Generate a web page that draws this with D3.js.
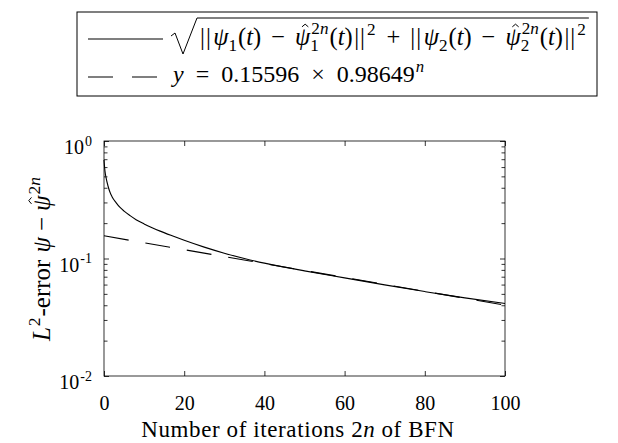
<!DOCTYPE html>
<html><head><meta charset="utf-8">
<script src="https://cdn.jsdelivr.net/npm/d3@7"></script>
<style>body{margin:0;background:#fff}svg{display:block}</style>
</head><body><svg id="c" width="618" height="443"></svg>
<script>
// ---- data ----
const errX = [0, 0.25, 0.5, 1, 1.5, 2, 3, 4, 5, 6.5, 8, 10, 12, 14, 17, 20, 25, 30, 35, 40, 45, 50, 60, 70, 80, 90, 100];
const errY = [0.690, 0.551, 0.490, 0.414, 0.366, 0.336, 0.299, 0.272, 0.253, 0.2315, 0.214, 0.197, 0.183, 0.171, 0.156, 0.143, 0.125, 0.111, 0.100, 0.0913, 0.0844, 0.0785, 0.0684, 0.0596, 0.0523, 0.0462, 0.0414];
const fitX = [0, 100];
const fitY = [0.15596, 0.04002];
const fitA = "0.15596", fitB = "0.98649";
const xTicks = [0, 20, 40, 60, 80, 100];
const yTickExp = [0, -1, -2];

const FONT = "'Liberation Serif','DejaVu Serif',serif";
const svg = d3.select("#c");
const L = 104, R = 505, T = 141, B = 376;
const x = d3.scaleLinear().domain([0, 100]).range([L, R]);
const y = d3.scaleLog().domain([0.01, 1]).range([B, T]);

// math-like text layout: one <text> per expression, tspans positioned absolutely
function mathLayout(g, items, size, opts = {}) {
  const text = g.append("text").style("font-family", FONT).attr("fill", "#000");
  if (opts.ls) text.style("letter-spacing", opts.ls + "px");
  const supK = opts.supK || 0.7;
  let cx = 0;
  function put(tok, px, py, fs) {
    const ts = text.append("tspan").attr("x", px).attr("y", py).style("font-size", fs + "px")
      .style("font-style", tok.f === "i" ? "italic" : "normal").text(tok.t);
    if (tok.tight) ts.style("letter-spacing", tok.tight + "px");
    const w = ts.node().getComputedTextLength();
    if (tok.hat) {
      const hx = px + w / 2 + fs * 0.1, hy = py - fs * 0.74;
      g.append("path").attr("d", `M${hx - fs * 0.13},${hy} L${hx},${hy - fs * 0.11} L${hx + fs * 0.13},${hy}`)
        .attr("fill", "none").attr("stroke", "#000").attr("stroke-width", 1);
    }
    return w;
  }
  for (const it of items) {
    if (it.sup || it.sub) {
      const fs = size * supK;
      let ws = 0, wb = 0;
      if (it.sup) { let xx = cx + 1; for (const t of it.sup) xx += put(t, xx, -size * (it.sub ? 0.45 : 0.42), fs); ws = xx - cx; }
      if (it.sub) { let xx = cx; for (const t of it.sub) xx += put(t, xx, size * 0.25, fs); wb = xx - cx; }
      cx += Math.max(ws, wb) + 1;
    } else {
      cx += (it.ml || 0);
      cx += put(it, cx, 0, size);
      cx += (it.mr || 0);
    }
  }
  return cx;
}

// ---- axes ----
const ax = svg.append("g");
const tickStyle = g => { g.select(".domain").remove(); g.selectAll("line").attr("stroke", "#000").attr("stroke-width", 0.8); };
ax.append("g").attr("transform", `translate(0,${B})`)
  .call(d3.axisBottom(x).tickValues(xTicks).tickSize(-5).tickPadding(20).tickFormat(d3.format("d")))
  .call(tickStyle)
  .call(g => g.selectAll("text").style("font-family", FONT).style("font-size", "20px").attr("fill", "#000"));
ax.append("g").attr("transform", `translate(0,${T})`)
  .call(d3.axisTop(x).tickValues(xTicks).tickSize(-5).tickFormat(""))
  .call(tickStyle);
const major = yTickExp.map(e => Math.pow(10, e));
const minor = y.ticks().filter(v => !major.some(m => Math.abs(v - m) < 1e-9));
[[d3.axisLeft, L], [d3.axisRight, R]].forEach(([fn, px]) => {
  ax.append("g").attr("transform", `translate(${px},0)`)
    .call(fn(y).tickValues(major).tickSize(-5).tickFormat("")).call(tickStyle);
  ax.append("g").attr("transform", `translate(${px},0)`)
    .call(fn(y).tickValues(minor).tickSize(-3.5).tickFormat("")).call(tickStyle);
});
ax.append("rect").attr("x", L).attr("y", T).attr("width", R - L).attr("height", B - T)
  .attr("fill", "none").attr("stroke", "#000").attr("stroke-width", 0.8);

// y tick labels
yTickExp.forEach(e => {
  const g = svg.append("g");
  const w = mathLayout(g, [{ t: "10" }, { sup: [{ t: String(e) }] }], 20);
  g.attr("transform", `translate(${93 - w},${y(Math.pow(10, e)) + 13})`);
});

// ---- lines ----
const line = d3.line().x(d => x(d[0])).y(d => y(d[1])).curve(d3.curveMonotoneX);
svg.append("path").datum(errX.map((v, i) => [v, errY[i]]))
  .attr("d", line).attr("fill", "none").attr("stroke", "#000").attr("stroke-width", 1.1);
svg.append("path").datum(fitX.map((v, i) => [v, fitY[i]]))
  .attr("d", d3.line().x(d => x(d[0])).y(d => y(d[1])))
  .attr("fill", "none").attr("stroke", "#000").attr("stroke-width", 1.1)
  .attr("stroke-dasharray", "25,17");

// ---- axis labels ----
{
  const g = svg.append("g");
  const w = mathLayout(g, [{ t: "Number of iterations 2" }, { t: "n", f: "i" }, { t: "of BFN", ml: 6 }], 23, { ls: 0.6 });
  g.attr("transform", `translate(${298 - w / 2},437)`);
}
{
  const g = svg.append("g");
  const w = mathLayout(g, [{ t: "L", f: "i" }, { sup: [{ t: "2" }] }, { t: "-error", mr: 7 },
    { t: "ψ", f: "i" }, { t: "−", ml: 6, mr: 6 }, { t: "ψ", f: "i", hat: true },
    { sup: [{ t: "2" }, { t: "n", f: "i" }] }], 25);
  g.attr("transform", `translate(50,${(T + B) / 2 + w / 2}) rotate(-90)`);
}

// ---- legend ----
const lg = svg.append("g");
lg.append("rect").attr("x", 77).attr("y", 12).attr("width", 520).attr("height", 84)
  .attr("fill", "#fff").attr("stroke", "#000").attr("stroke-width", 1);
lg.append("line").attr("x1", 88).attr("x2", 163).attr("y1", 39).attr("y2", 39)
  .attr("stroke", "#000").attr("stroke-width", 1.1);
lg.append("line").attr("x1", 88).attr("x2", 163).attr("y1", 77).attr("y2", 77)
  .attr("stroke", "#000").attr("stroke-width", 1.1).attr("stroke-dasharray", "25,19");
{
  const g = lg.append("g").attr("transform", "translate(200,45)");
  const psiPart = k => [
    { t: "||", tight: 1, mr: 1.5 }, { t: "ψ", f: "i" }, { sub: [{ t: String(k) }] }, { t: "(" }, { t: "t", f: "i" }, { t: ")" },
    { t: "−", ml: 10, mr: 10 }, { t: "ψ", f: "i", hat: true },
    { sup: [{ t: "2" }, { t: "n", f: "i" }], sub: [{ t: String(k) }] },
    { t: "(" }, { t: "t", f: "i" }, { t: ")" }, { t: "||", tight: 1, ml: 1.5 }, { sup: [{ t: "2" }] }];
  const w = mathLayout(g, [...psiPart(1), { t: "+", ml: 10, mr: 10 }, ...psiPart(2)], 24.5);
  lg.append("path").attr("d", `M171,36 L175,33 L183,54 L197,18 L${200 + w + 2},18`)
    .attr("fill", "none").attr("stroke", "#000").attr("stroke-width", 1);
}
{
  const g = lg.append("g").attr("transform", "translate(173,82)");
  mathLayout(g, [{ t: "y", f: "i" }, { t: "=", ml: 12, mr: 12 }, { t: fitA }, { t: "×", ml: 12, mr: 12 },
    { t: fitB }, { sup: [{ t: "n", f: "i" }] }], 24);
}
</script>
</body></html>
